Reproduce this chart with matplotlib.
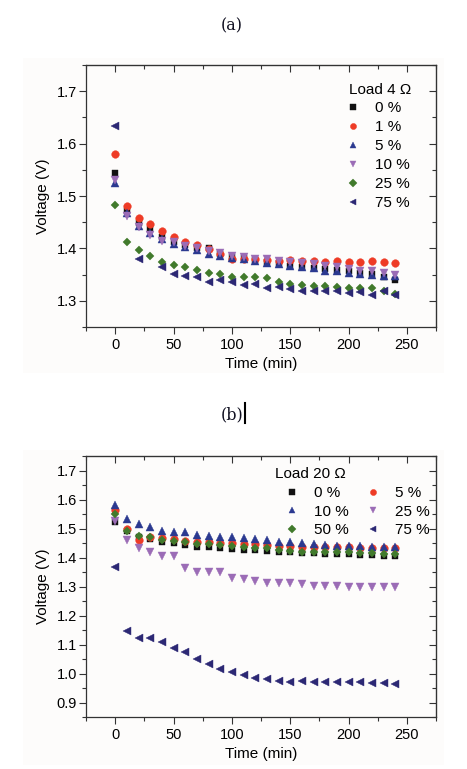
import numpy as np
import matplotlib
matplotlib.use('Agg')
import matplotlib.pyplot as plt
from matplotlib.ticker import MultipleLocator
from matplotlib.patches import Rectangle
from matplotlib.lines import Line2D

plt.rcParams['font.family'] = ['Liberation Sans', 'DejaVu Sans']

nan = np.nan
time_min = [0, 10, 20, 30, 40, 50, 60, 70, 80, 90, 100, 110, 120,
            130, 140, 150, 160, 170, 180, 190, 200, 210, 220, 230, 240]

# (a) load 4 ohm
labels_a = ['0 %', '1 %', '5 %', '10 %', '25 %', '75 %']
a_0 = [1.544, 1.471, 1.448, 1.437, 1.4225, 1.413, 1.406, 1.400, 1.401, 1.389, 1.383, 1.381, 1.378,
       1.375, 1.372, 1.367, 1.365, 1.362, 1.360, 1.358, 1.356, 1.353, 1.351, 1.345, 1.340]
a_1 = [1.581, 1.480, 1.4575, 1.447, 1.433, 1.421, 1.413, 1.4065, 1.398, 1.389, 1.380, 1.379, 1.379,
       1.378, 1.3765, 1.378, 1.3765, 1.376, 1.375, 1.3765, 1.375, 1.375, 1.3765, 1.375, 1.373]
a_5 = [1.525, 1.468, 1.442, 1.430, 1.418, 1.4085, 1.402, 1.396, 1.389, 1.386, 1.381, 1.379, 1.3765,
       1.372, 1.370, 1.3657, 1.364, 1.362, 1.357, 1.356, 1.354, 1.352, 1.350, 1.348, 1.348]
a_10 = [1.530, 1.461, 1.440, 1.426, 1.4148, 1.4116, 1.4053, 1.401, 1.3944, 1.391, 1.386, 1.383, 1.380,
        1.379, 1.3765, 1.375, 1.372, 1.370, 1.3657, 1.364, 1.3607, 1.357, 1.356, 1.354, 1.350]
a_25 = [1.482, 1.413, 1.396, 1.386, 1.3733, 1.369, 1.3637, 1.3587, 1.354, 1.351, 1.346, 1.346, 1.346,
        1.343, 1.335, 1.333, 1.331, 1.329, 1.328, 1.327, 1.325, 1.325, 1.324, 1.318, 1.313]
a_75 = [1.634, nan, 1.379, nan, 1.3637, 1.351, 1.348, 1.345, 1.336, 1.340, 1.335, 1.331, 1.332,
        1.325, 1.327, 1.322, 1.318, 1.319, 1.318, 1.318, 1.314, 1.316, 1.3115, 1.318, 1.3115]

# (b) load 20 ohm
labels_b = ['0 %', '5 %', '10 %', '25 %', '50 %', '75 %']
b_0 = [1.524, 1.490, 1.470, 1.4635, 1.455, 1.450, 1.444, 1.438, 1.436, 1.432, 1.429, 1.427, 1.427,
       1.423, 1.419, 1.418, 1.415, 1.415, 1.413, 1.411, 1.411, 1.409, 1.409, 1.407, 1.406]
b_5 = [1.564, 1.499, 1.461, 1.4725, 1.467, 1.4635, 1.4586, 1.455, 1.453, 1.452, 1.450, 1.447, 1.446,
       1.444, 1.441, 1.440, 1.438, 1.438, 1.436, 1.435, 1.435, 1.432, 1.432, 1.4315, 1.4315]
b_10 = [1.582, 1.532, 1.516, 1.507, 1.493, 1.4875, 1.4875, 1.478, 1.475, 1.4724, 1.470, 1.467, 1.463,
        1.461, 1.453, 1.453, 1.450, 1.446, 1.444, 1.441, 1.440, 1.440, 1.438, 1.436, 1.436]
b_25 = [1.527, 1.459, 1.432, 1.421, 1.407, 1.407, 1.363, 1.352, 1.350, 1.350, 1.329, 1.327, 1.321,
        1.314, 1.312, 1.312, 1.309, 1.3035, 1.3035, 1.3035, 1.300, 1.300, 1.299, 1.299, 1.299]
b_50 = [1.550, 1.492, 1.476, 1.470, 1.461, 1.458, 1.455, 1.446, 1.446, 1.444, 1.440, 1.438, 1.432,
        1.4315, 1.427, 1.423, 1.421, 1.419, 1.419, 1.418, 1.418, 1.415, 1.415, 1.413, 1.413]
b_75 = [1.369, 1.148, 1.122, 1.122, 1.108, 1.090, 1.076, 1.050, 1.0345, 1.016, 1.006, 0.994, 0.986,
        0.981, 0.975, 0.970, 0.976, 0.970, 0.973, 0.970, 0.973, 0.970, 0.969, 0.968, 0.965]

markers = ['s', 'o', '^', 'v', 'D', '<']
colors = ['#111111', '#ee3b26', '#2b3990', '#9b6cb6', '#417a2c', '#2c2874']
sizes = [5, 5.5, 6, 6, 4.5, 6]
FS = 10.5


def style_axes(ax, ylim, ymajor):
    ax.set_xlim(-25, 275)
    ax.set_ylim(*ylim)
    ax.xaxis.set_major_locator(MultipleLocator(50))
    ax.xaxis.set_minor_locator(MultipleLocator(25))
    ax.yaxis.set_major_locator(MultipleLocator(ymajor))
    ax.yaxis.set_minor_locator(MultipleLocator(ymajor / 2))
    ax.tick_params(which='both', direction='out', width=0.8, labelsize=FS, color='#333333')
    ax.tick_params(which='major', length=5)
    ax.tick_params(which='minor', length=3)
    ax.tick_params(axis='y', pad=1.5)
    ax.tick_params(axis='x', pad=3)
    for sp in ax.spines.values():
        sp.set_linewidth(0.9)
        sp.set_color('#333333')
    top = ax.secondary_xaxis('top')
    top.xaxis.set_major_locator(MultipleLocator(50))
    top.xaxis.set_minor_locator(MultipleLocator(25))
    top.tick_params(which='both', direction='in', labeltop=False, width=0.8, color='#333333')
    top.tick_params(which='major', length=5)
    top.tick_params(which='minor', length=3)
    right = ax.secondary_yaxis('right')
    right.yaxis.set_major_locator(MultipleLocator(ymajor))
    right.yaxis.set_minor_locator(MultipleLocator(ymajor / 2))
    right.tick_params(which='both', direction='in', labelright=False, width=0.8, color='#333333')
    right.tick_params(which='major', length=5)
    right.tick_params(which='minor', length=3)
    ax.set_xlabel('Time (min)', fontsize=FS + 0.5, labelpad=3.5)
    ax.set_ylabel('Voltage (V)', fontsize=FS + 0.5, labelpad=5)


fig = plt.figure(figsize=(4.67, 7.69), dpi=100)
W, H = 467, 769

# light panel backgrounds
for y0 in (58, 450):
    fig.add_artist(Rectangle((23 / W, 1 - (y0 + 315) / H), 421 / W, 315 / H,
                             transform=fig.transFigure, facecolor='#fdfcfb', edgecolor='none', zorder=0))

fig.text(232 / W, 1 - 26 / H, '(a)', ha='center', va='center', family='DejaVu Serif', fontsize=11.5, color='#111122')
fig.text(232 / W, 1 - 415 / H, '(b)', ha='center', va='center', family='DejaVu Serif', fontsize=11.5, color='#111122')
fig.add_artist(Line2D([245 / W, 245 / W], [1 - 403 / H, 1 - 423 / H], transform=fig.transFigure,
                      color='black', linewidth=1.5))

# panel (a)
ax1 = fig.add_axes([86 / W, 1 - 327 / H, 350 / W, 262 / H])
ax1.patch.set_alpha(0)
series_a = [a_0, a_1, a_5, a_10, a_25, a_75]
handles_a = []
for vals, lab, m, c, s in zip(series_a, labels_a, markers, colors, sizes):
    h, = ax1.plot(time_min, vals, linestyle='none', marker=m, color=c, markersize=s,
                  markeredgewidth=0.3, markeredgecolor=c, label=lab)
    handles_a.append(h)
style_axes(ax1, (1.25, 1.75), 0.1)
ax1.text((349 - 86) / 350, (327 - 90) / 262, 'Load 4 \u03a9', transform=ax1.transAxes,
         fontsize=FS + 0.5, ha='left', va='center')
ax1.legend(handles=handles_a, loc='upper left', bbox_to_anchor=((345 - 86) / 350, (327 - 101) / 262),
           frameon=False, fontsize=FS + 0.5, handlelength=1.0, handletextpad=0.95,
           labelspacing=0.33, borderpad=0, borderaxespad=0, markerscale=0.8)

# panel (b)
ax2 = fig.add_axes([86 / W, 1 - 717.3 / H, 350 / W, 261.3 / H])
ax2.patch.set_alpha(0)
series_b = [b_0, b_5, b_10, b_25, b_50, b_75]
handles_b = []
for vals, lab, m, c, s in zip(series_b, labels_b, markers, colors, sizes):
    h, = ax2.plot(time_min, vals, linestyle='none', marker=m, color=c, markersize=s,
                  markeredgewidth=0.3, markeredgecolor=c, label=lab)
    handles_b.append(h)
style_axes(ax2, (0.85, 1.75), 0.1)
ax2.text((275 - 86) / 350, (717.3 - 474) / 261.3, 'Load 20 \u03a9', transform=ax2.transAxes,
         fontsize=FS + 0.5, ha='left', va='center')
order = [0, 2, 4, 1, 3, 5]
ax2.legend(handles=[handles_b[i] for i in order], loc='upper left',
           bbox_to_anchor=((284 - 86) / 350, (717.3 - 486) / 261.3), ncol=2,
           frameon=False, fontsize=FS + 0.5, handlelength=1.0, handletextpad=0.95,
           labelspacing=0.31, columnspacing=1.1, borderpad=0, borderaxespad=0, markerscale=0.8)

fig.savefig('out.png', dpi=100)
